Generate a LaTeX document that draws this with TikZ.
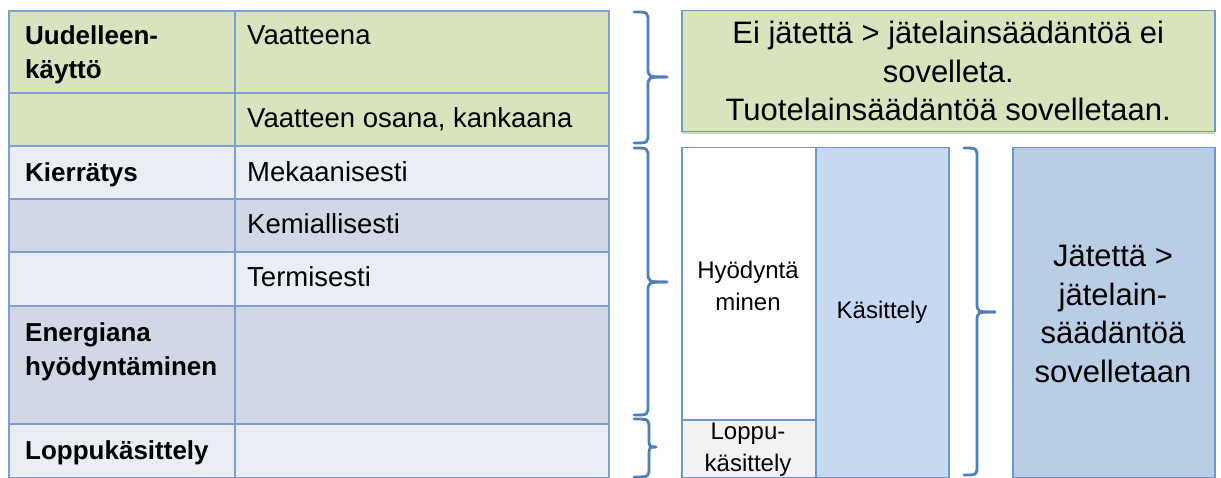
\documentclass[tikz,border=0pt]{standalone}
\usepackage{fontspec}
\setmainfont{Liberation Sans}
\usetikzlibrary{shadows}
\definecolor{tgreen}{HTML}{D7E4BD}
\definecolor{tlight}{HTML}{E9EDF4}
\definecolor{tdark}{HTML}{D0D8E8}
\definecolor{tline}{HTML}{7F9FCF}
\definecolor{bline}{HTML}{6F97C9}
\definecolor{kfill}{HTML}{C6D9F1}
\definecolor{jfill}{HTML}{B9CDE5}
\definecolor{gfill}{HTML}{F2F2F2}
\definecolor{brace}{HTML}{4F7EBB}
\tikzset{
  cell/.style={draw=tline, line width=2pt, inner sep=0pt, anchor=north west},
  boxx/.style={draw=bline, line width=1.5pt, inner sep=0pt, anchor=north west},
  ttext/.style={anchor=base west, inner sep=0pt, font=\fontsize{27.5}{34}\selectfont},
  tbold/.style={anchor=base west, inner sep=0pt, font=\fontsize{26}{34}\selectfont\bfseries, align=left},
  rtext/.style={inner sep=0pt, align=center, font=\fontsize{31}{38.5}\selectfont},
  stext/.style={inner sep=0pt, align=center, font=\fontsize{24}{32}\selectfont},
  brc/.style={draw=brace, line width=2.8pt, line cap=round}
}
\newcommand{\mybrace}[6]{% x0 xm xt y1 ym y2
  \draw[brc] (#1,#4) .. controls (#2,#4) .. (#2,#4+10) -- (#2,#5-10) .. controls (#2,#5) .. (#3,#5);
  \draw[brc] (#3,#5) .. controls (#2,#5) .. (#2,#5+10) -- (#2,#6-10) .. controls (#2,#6) .. (#1,#6);
}
\begin{document}
\begin{tikzpicture}[x=1pt,y=-1pt]
\useasboundingbox (0,0) rectangle (1221,478);
% table cells
\node[cell, fill=tgreen, minimum width=226, minimum height=82] (a1) at (8,10) {};
\node[cell, fill=tgreen, minimum width=374, minimum height=82] (b1) at (234,10) {};
\node[cell, fill=tgreen, minimum width=226, minimum height=53] (a2) at (8,92) {};
\node[cell, fill=tgreen, minimum width=374, minimum height=53] (b2) at (234,92) {};
\node[cell, fill=tlight, minimum width=226, minimum height=53] (a3) at (8,145) {};
\node[cell, fill=tlight, minimum width=374, minimum height=53] (b3) at (234,145) {};
\node[cell, fill=tdark, minimum width=226, minimum height=53] (a4) at (8,198) {};
\node[cell, fill=tdark, minimum width=374, minimum height=53] (b4) at (234,198) {};
\node[cell, fill=tlight, minimum width=226, minimum height=54] (a5) at (8,251) {};
\node[cell, fill=tlight, minimum width=374, minimum height=54] (b5) at (234,251) {};
\node[cell, fill=tdark, minimum width=226, minimum height=118] (a6) at (8,305) {};
\node[cell, fill=tdark, minimum width=374, minimum height=118] (b6) at (234,305) {};
\node[cell, fill=tlight, minimum width=226, minimum height=54] (a7) at (8,423) {};
\node[cell, fill=tlight, minimum width=374, minimum height=54] (b7) at (234,423) {};
% table texts
\node[tbold] (t1) at (25,79) {Uudelleen-\\käyttö};
\node[ttext] (t2) at (247,45) {Vaatteena};
\node[ttext] (t3) at (247,128) {Vaatteen osana, kankaana};
\node[tbold] (t4) at (25,182) {Kierrätys};
\node[ttext] (t5) at (247,182) {Mekaanisesti};
\node[ttext] (t6) at (247,234) {Kemiallisesti};
\node[ttext] (t7) at (247,287) {Termisesti};
\node[tbold] (t8) at (25,375) {Energiana\\hyödyntäminen};
\node[tbold] (t9) at (25,459) {Loppukäsittely};
% right boxes
\node[boxx, fill=tgreen, minimum width=533, minimum height=121, drop shadow={opacity=0.35, shadow xshift=0pt, shadow yshift=-2pt}] (g) at (681,10) {};
\node[rtext] (gt) at (g.center) {Ei jätettä > jätelainsäädäntöä ei\\sovelleta.\\Tuotelainsäädäntöä sovelletaan.};
\node[boxx, fill=white, minimum width=134, minimum height=272] (h) at (681,147) {};
\node[boxx, fill=gfill, minimum width=134, minimum height=58] (l) at (681,419) {};
\node[boxx, fill=kfill, minimum width=133, minimum height=330] (k) at (815,147) {};
\node[boxx, fill=jfill, minimum width=202, minimum height=330] (j) at (1012,147) {};
\node[stext] (ht) at (748,286) {Hyödyntä\\minen};
\node[stext] (lt) at (748,450) {Loppu-\\käsittely};
\node[stext] (kt) at (882,312) {Käsittely};
\node[rtext] (jt) at (1113,314) {Jätettä >\\jätelain-\\säädäntöä\\sovelletaan};
% braces
\mybrace{634}{648}{667}{12}{77}{143}
\mybrace{634}{648}{667}{148}{282}{415}
\mybrace{634}{649}{656}{419}{447}{477}
\mybrace{964}{977}{995}{148}{312}{475}
\end{tikzpicture}
\end{document}
